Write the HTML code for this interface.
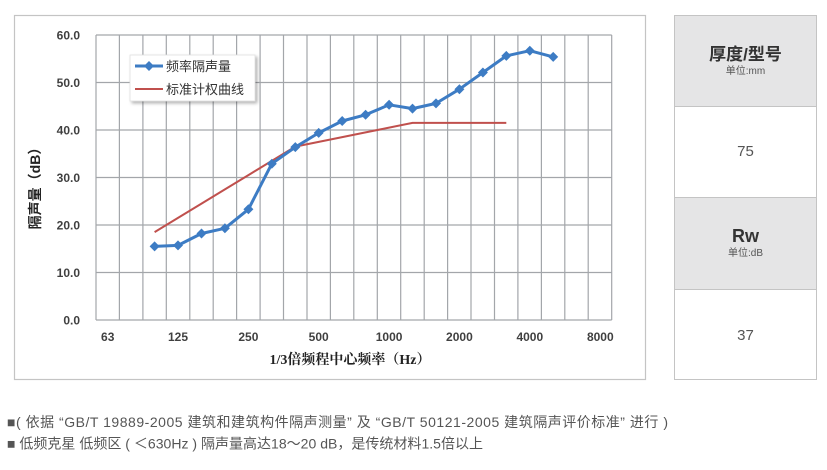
<!DOCTYPE html>
<html><head><meta charset="utf-8">
<style>
html,body{margin:0;padding:0;background:#fff;}
body{width:827px;height:470px;position:relative;overflow:hidden;font-family:"Liberation Sans","Noto Sans CJK SC",sans-serif;}
.tbl{position:absolute;left:674px;top:15px;width:143px;height:365px;border:1px solid #c4c4c4;box-sizing:border-box;}
.cell{position:absolute;left:0;width:100%;box-sizing:border-box;text-align:center;}
.hd{background:#e5e5e6;}
</style></head><body>
<svg width="827" height="470" style="position:absolute;left:0;top:0" xmlns="http://www.w3.org/2000/svg">
<defs>
<filter id="sh" x="-10%" y="-10%" width="130%" height="140%"><feDropShadow dx="2" dy="2" stdDeviation="1.5" flood-color="#000" flood-opacity="0.3"/></filter>
</defs>
<rect x="14.5" y="15.5" width="631" height="364" fill="#fff" stroke="#c4c4c4" stroke-width="1.2"/>
<g stroke="#a3a6aa" stroke-width="1.2">
<line x1="96" y1="35" x2="611.7" y2="35"/>
<line x1="96" y1="82.5" x2="611.7" y2="82.5"/>
<line x1="96" y1="130" x2="611.7" y2="130"/>
<line x1="96" y1="177.5" x2="611.7" y2="177.5"/>
<line x1="96" y1="225" x2="611.7" y2="225"/>
<line x1="96" y1="272.5" x2="611.7" y2="272.5"/>
<line x1="96" y1="320" x2="611.7" y2="320"/>
<line x1="96" y1="35" x2="96" y2="320"/>
<line x1="119.4" y1="35" x2="119.4" y2="320"/>
<line x1="142.9" y1="35" x2="142.9" y2="320"/>
<line x1="166.3" y1="35" x2="166.3" y2="320"/>
<line x1="189.8" y1="35" x2="189.8" y2="320"/>
<line x1="213.2" y1="35" x2="213.2" y2="320"/>
<line x1="236.6" y1="35" x2="236.6" y2="320"/>
<line x1="260.1" y1="35" x2="260.1" y2="320"/>
<line x1="283.5" y1="35" x2="283.5" y2="320"/>
<line x1="307.0" y1="35" x2="307.0" y2="320"/>
<line x1="330.4" y1="35" x2="330.4" y2="320"/>
<line x1="353.8" y1="35" x2="353.8" y2="320"/>
<line x1="377.3" y1="35" x2="377.3" y2="320"/>
<line x1="400.7" y1="35" x2="400.7" y2="320"/>
<line x1="424.2" y1="35" x2="424.2" y2="320"/>
<line x1="447.6" y1="35" x2="447.6" y2="320"/>
<line x1="471.0" y1="35" x2="471.0" y2="320"/>
<line x1="494.5" y1="35" x2="494.5" y2="320"/>
<line x1="517.9" y1="35" x2="517.9" y2="320"/>
<line x1="541.4" y1="35" x2="541.4" y2="320"/>
<line x1="564.8" y1="35" x2="564.8" y2="320"/>
<line x1="588.2" y1="35" x2="588.2" y2="320"/>
<line x1="611.7" y1="35" x2="611.7" y2="320"/>
</g>
<g font-family="Liberation Sans, sans-serif" font-weight="bold" font-size="12" fill="#404040" text-anchor="end">
<text x="80" y="39.5">60.0</text>
<text x="80" y="87">50.0</text>
<text x="80" y="134.5">40.0</text>
<text x="80" y="182">30.0</text>
<text x="80" y="229.5">20.0</text>
<text x="80" y="277">10.0</text>
<text x="80" y="324.5">0.0</text>
</g>
<g font-family="Liberation Sans, sans-serif" font-weight="bold" font-size="12" fill="#404040" text-anchor="middle">
<text x="107.7" y="341">63</text>
<text x="178" y="341">125</text>
<text x="248.4" y="341">250</text>
<text x="318.7" y="341">500</text>
<text x="389.1" y="341">1000</text>
<text x="459.4" y="341">2000</text>
<text x="529.8" y="341">4000</text>
<text x="600.3" y="341">8000</text>
</g>
<text x="350" y="364" text-anchor="middle" font-family="Liberation Serif, Noto Serif CJK SC, serif" font-weight="bold" font-size="14" fill="#222">1/3倍频程中心频率（Hz）</text>
<text transform="translate(40,185) rotate(-90)" text-anchor="middle" font-family="Liberation Sans, Noto Sans CJK SC, sans-serif" font-weight="bold" font-size="14" fill="#222">隔声量（dB）</text>
<polyline fill="none" stroke="#c0504d" stroke-width="2" points="154.6,232.1 178,217.9 201.5,203.6 224.9,189.4 248.4,175.1 271.8,160.9 295.3,146.6 318.7,141.9 342.2,137.1 365.6,132.4 389.1,127.6 412.5,122.9 506.3,122.9"/>
<polyline fill="none" stroke="#3d7cc4" stroke-width="3" stroke-linejoin="round" points="154.6,246.4 178,245.4 201.5,233.5 224.9,228.3 248.4,209.3 271.8,163.7 295.3,147.1 318.7,132.9 342.2,121 365.6,114.8 389.1,104.8 412.5,108.6 436,103.4 459.4,89.2 482.9,72.5 506.3,55.9 529.8,50.7 553.2,56.9"/>
<g fill="#3d7cc4">
<path d="M154.6,241.4 l5,5 l-5,5 l-5,-5z"/>
<path d="M178,240.4 l5,5 l-5,5 l-5,-5z"/>
<path d="M201.5,228.5 l5,5 l-5,5 l-5,-5z"/>
<path d="M224.9,223.3 l5,5 l-5,5 l-5,-5z"/>
<path d="M248.4,204.3 l5,5 l-5,5 l-5,-5z"/>
<path d="M271.8,158.7 l5,5 l-5,5 l-5,-5z"/>
<path d="M295.3,142.1 l5,5 l-5,5 l-5,-5z"/>
<path d="M318.7,127.9 l5,5 l-5,5 l-5,-5z"/>
<path d="M342.2,116 l5,5 l-5,5 l-5,-5z"/>
<path d="M365.6,109.8 l5,5 l-5,5 l-5,-5z"/>
<path d="M389.1,99.8 l5,5 l-5,5 l-5,-5z"/>
<path d="M412.5,103.6 l5,5 l-5,5 l-5,-5z"/>
<path d="M436,98.4 l5,5 l-5,5 l-5,-5z"/>
<path d="M459.4,84.2 l5,5 l-5,5 l-5,-5z"/>
<path d="M482.9,67.5 l5,5 l-5,5 l-5,-5z"/>
<path d="M506.3,50.9 l5,5 l-5,5 l-5,-5z"/>
<path d="M529.8,45.7 l5,5 l-5,5 l-5,-5z"/>
<path d="M553.2,51.9 l5,5 l-5,5 l-5,-5z"/>
</g>
<rect x="130" y="55" width="125" height="46" fill="#fff" stroke="#e0e0e0" stroke-width="0.8" filter="url(#sh)"/>
<line x1="135" y1="66" x2="163" y2="66" stroke="#3d7cc4" stroke-width="3"/>
<path d="M149,61 l5,5 l-5,5 l-5,-5z" fill="#3d7cc4"/>
<line x1="135" y1="89" x2="163" y2="89" stroke="#c0504d" stroke-width="2"/>
<g font-family="Liberation Sans, Noto Sans CJK SC, sans-serif" font-size="13" fill="#333">
<text x="166" y="71">频率隔声量</text>
<text x="166" y="94">标准计权曲线</text>
</g>
<g font-family="Liberation Sans, Noto Sans CJK SC, sans-serif" font-size="14" fill="#555">
<text x="7" y="427" textLength="661" lengthAdjust="spacing" xml:space="preserve">■( 依据 “GB/T 19889-2005 建筑和建筑构件隔声测量” 及 “GB/T 50121-2005 建筑隔声评价标准” 进行 )</text>
<text x="7" y="448.5" textLength="476" lengthAdjust="spacing" xml:space="preserve">■ 低频克星 低频区 ( ＜630Hz ) 隔声量高达18～20 dB，是传统材料1.5倍以上</text>
</g>
</svg>
<div class="tbl">
 <div class="cell hd" style="top:0;height:91px;border-bottom:1px solid #c4c4c4;">
  <div style="position:absolute;top:29px;width:100%;font-size:17px;font-weight:bold;color:#333;line-height:20px;">厚度/型号</div>
  <div style="position:absolute;top:50px;width:100%;font-size:10px;color:#555;line-height:12px;">单位:mm</div>
 </div>
 <div class="cell" style="top:91px;height:91px;border-bottom:1px solid #c4c4c4;">
  <div style="position:absolute;top:36px;width:100%;font-size:15px;color:#555;line-height:18px;">75</div>
 </div>
 <div class="cell hd" style="top:182px;height:92px;border-bottom:1px solid #c4c4c4;">
  <div style="position:absolute;top:28px;width:100%;font-size:18px;font-weight:bold;color:#333;line-height:20px;">Rw</div>
  <div style="position:absolute;top:50px;width:100%;font-size:10px;color:#555;line-height:12px;">单位:dB</div>
 </div>
 <div class="cell" style="top:274px;height:90px;">
  <div style="position:absolute;top:37px;width:100%;font-size:15px;color:#555;line-height:18px;">37</div>
 </div>
</div>
</body></html>
